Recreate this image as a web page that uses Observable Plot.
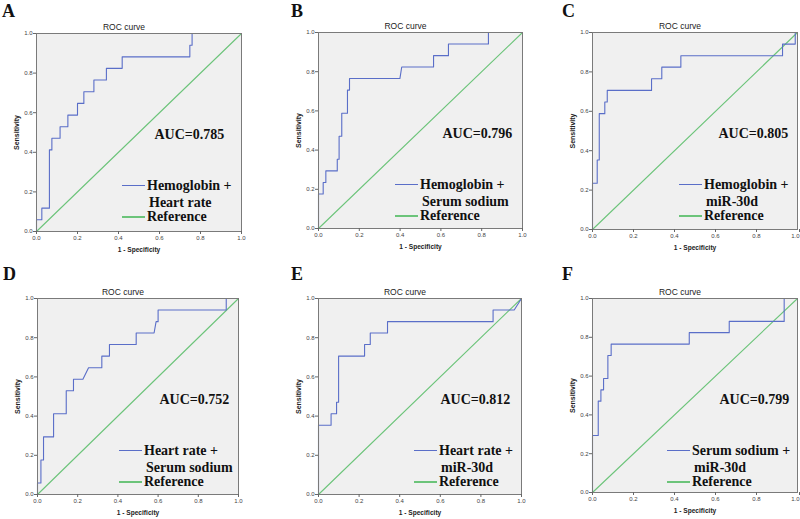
<!DOCTYPE html>
<html><head><meta charset="utf-8">
<script src="https://cdn.jsdelivr.net/npm/d3@7"></script>
<script src="https://cdn.jsdelivr.net/npm/@observablehq/plot@0.6"></script>
<style>
html,body{margin:0;padding:0;background:#fff;}
#wrap{position:relative;width:800px;height:519px;overflow:hidden;background:#fff;}
.pl{position:absolute;}
.letter{position:absolute;font:bold 18px "Liberation Serif","Times New Roman",serif;line-height:18px;color:#111;}
.ov{position:absolute;}
.lg{position:absolute;font:bold 14px "Liberation Serif","Times New Roman",serif;line-height:14px;color:#111;white-space:nowrap;}
.sw{position:absolute;height:1.6px;}
</style></head><body><div id="wrap"></div>
<script>
// ---------- data ----------
const panelLetters = ["A","B","C","D","E","F"];
const aucLabels = ["AUC=0.785","AUC=0.796","AUC=0.805","AUC=0.752","AUC=0.812","AUC=0.799"];
const seriesLine1 = ["Hemoglobin +","Hemoglobin +","Hemoglobin +","Heart rate +","Heart rate +","Serum sodium +"];
const seriesLine2 = ["Heart rate","Serum sodium","miR-30d","Serum sodium","miR-30d","miR-30d"];
const referenceLabel = "Reference";
const chartTitle = "ROC curve";
const xLabel = "1 - Specificity";
const yLabel = "Sensitivity";
const tickValues = [0, 0.2, 0.4, 0.6, 0.8, 1.0];
const refFpr = [0, 1];
const refTpr = [0, 1];

const fprA = [0,0,0.026,0.026,0.063,0.063,0.075,0.075,0.115,0.115,0.153,0.153,0.200,0.200,0.231,0.231,0.280,0.280,0.341,0.341,0.418,0.418,0.748,0.748,0.759,0.759,1];
const tprA = [0,0.059,0.059,0.118,0.118,0.412,0.412,0.471,0.471,0.529,0.529,0.588,0.588,0.647,0.647,0.706,0.706,0.765,0.765,0.824,0.824,0.882,0.882,0.941,0.941,1,1];

const fprB = [0,0,0.023,0.023,0.036,0.036,0.092,0.092,0.101,0.101,0.114,0.114,0.142,0.142,0.152,0.152,0.399,0.408,0.564,0.564,0.637,0.637,0.833,0.833,1];
const tprB = [0,0.176,0.176,0.235,0.235,0.294,0.294,0.353,0.353,0.471,0.471,0.588,0.588,0.706,0.706,0.765,0.765,0.824,0.824,0.882,0.882,0.941,0.941,1,1];

const fprC = [0,0,0.023,0.023,0.033,0.033,0.060,0.060,0.072,0.072,0.288,0.288,0.338,0.338,0.431,0.431,0.927,0.927,0.989,0.989,1];
const tprC = [0,0.235,0.235,0.353,0.353,0.588,0.588,0.647,0.647,0.706,0.706,0.765,0.765,0.824,0.824,0.882,0.882,0.941,0.941,1,1];

const fprD = [0,0,0.017,0.017,0.030,0.030,0.080,0.080,0.143,0.143,0.179,0.179,0.226,0.254,0.320,0.320,0.358,0.358,0.491,0.491,0.580,0.590,0.600,0.600,0.939,0.939,1];
const tprD = [0,0.059,0.059,0.176,0.176,0.294,0.294,0.412,0.412,0.529,0.529,0.588,0.588,0.647,0.647,0.706,0.706,0.765,0.765,0.824,0.824,0.882,0.882,0.941,0.941,1,1];

const fprE = [0,0,0.062,0.062,0.089,0.089,0.099,0.099,0.227,0.227,0.255,0.255,0.340,0.340,0.860,0.860,0.964,1];
const tprE = [0,0.353,0.353,0.412,0.412,0.471,0.471,0.706,0.706,0.765,0.765,0.824,0.824,0.882,0.882,0.941,0.941,1];

const fprF = [0,0,0.028,0.028,0.041,0.041,0.054,0.054,0.075,0.075,0.091,0.091,0.472,0.472,0.667,0.667,0.935,0.935,1];
const tprF = [0,0.294,0.294,0.471,0.471,0.529,0.529,0.588,0.588,0.706,0.706,0.765,0.765,0.824,0.824,0.882,0.882,1,1];

const fprs = [fprA, fprB, fprC, fprD, fprE, fprF];
const tprs = [tprA, tprB, tprC, tprD, tprE, tprF];

// ---------- layout & style ----------
const BLUE = "#5a6ec8";
const GREEN = "#6cc47a";
const layout = [
  {left:36,  top:33,  w:205, h:198, legX:86, aucX:118, lx:2,   ly:5},
  {left:318, top:32,  w:204, h:196, legX:77, aucX:124, lx:291, ly:5},
  {left:592, top:32,  w:205, h:197, legX:87, aucX:126, lx:562, ly:5},
  {left:37,  top:298, w:201, h:196, legX:82, aucX:122, lx:3,   ly:268},
  {left:318, top:298, w:203, h:196, legX:96, aucX:122, lx:291, ly:268},
  {left:592, top:298, w:205, h:194, legX:75, aucX:127, lx:562, ly:268}
];
const mL = 45, mT = 34, mR = 8, mB = 26;
const SERIF = "'Liberation Serif','Times New Roman',serif";
const wrap = document.getElementById("wrap");
const fmt = d3.format(".1f");

layout.forEach((L, i) => {
  const curve = fprs[i].map((x, j) => ({x, y: tprs[i][j]}));
  const ref = refFpr.map((x, j) => ({x, y: refTpr[j]}));
  const nearEdge = L.left + L.w + 6 > 800;
  const xTicksMain = nearEdge ? tickValues.slice(0, -1) : tickValues;
  const xTicksLast = nearEdge ? tickValues.slice(-1) : [];
  const axisOpts = {tickFormat: fmt, tickSize: 3, tickPadding: 1, fontSize: 6, label: null, stroke: "#666", fill: "#444"};
  const svg = Plot.plot({
    width: L.w + mL + mR,
    height: L.h + mT + mB,
    marginLeft: mL, marginTop: mT, marginRight: mR, marginBottom: mB,
    style: {background: "transparent", overflow: "visible", fontFamily: "'Liberation Sans',Arial,sans-serif", color: "#222"},
    x: {domain: [0, 1]},
    y: {domain: [0, 1]},
    marks: [
      Plot.frame({fill: "#f0f0f0", stroke: null}),
      Plot.line(ref, {x: "x", y: "y", stroke: GREEN, strokeWidth: 1.1}),
      Plot.line(curve, {x: "x", y: "y", stroke: BLUE, strokeWidth: 1.1}),
      Plot.frame({stroke: "#7a7a7a", strokeWidth: 1}),
      Plot.axisX(xTicksMain, axisOpts),
      Plot.axisX(xTicksLast, {...axisOpts, textAnchor: "end", dx: 2}),
      Plot.axisY(tickValues, axisOpts),
      Plot.text([chartTitle], {frameAnchor: "top", dx: -15, dy: -6, lineAnchor: "middle", textAnchor: "middle", fontSize: 8.5, fill: "#222"}),
      Plot.text([yLabel], {frameAnchor: "left", rotate: -90, dx: -20, lineAnchor: "middle", textAnchor: "middle", fontSize: 7, fontWeight: "bold", fill: "#222"}),
      Plot.text([xLabel], {frameAnchor: "bottom", dy: 18, lineAnchor: "middle", textAnchor: "middle", fontSize: 6.6, fontWeight: "bold", fill: "#222"}),
      Plot.text([aucLabels[i]], {frameAnchor: "top-left", dx: L.aucX, dy: 101.5, lineAnchor: "middle", textAnchor: "start", fontSize: 14, fontWeight: "bold", fontFamily: SERIF, fill: "#111"})
    ]
  });
  svg.classList.add("pl");
  svg.style.position = "absolute";
  svg.style.left = (L.left - mL) + "px";
  svg.style.top = (L.top - mT) + "px";
  svg.style.maxWidth = "none";
  wrap.appendChild(svg);

  // panel letter
  const let_ = document.createElement("div");
  let_.className = "letter";
  let_.textContent = panelLetters[i];
  let_.style.left = L.lx + "px";
  let_.style.top = (L.ly - 3.2) + "px";
  wrap.appendChild(let_);

  // legend overlay
  const ov = document.createElement("div");
  ov.className = "ov";
  ov.style.left = L.left + "px";
  ov.style.top = L.top + "px";
  const rows = [
    {text: seriesLine1[i], y: 152.5, sw: BLUE, indent: 0},
    {text: seriesLine2[i], y: 170, sw: null, indent: 2},
    {text: referenceLabel, y: 184, sw: GREEN, indent: 0}
  ];
  rows.forEach(r => {
    if (r.sw) {
      const s = document.createElement("div");
      s.className = "sw";
      s.style.background = r.sw;
      s.style.left = L.legX + "px";
      s.style.width = "23px";
      s.style.top = (r.y - 1) + "px";
      ov.appendChild(s);
    }
    const t = document.createElement("div");
    t.className = "lg";
    t.textContent = r.text;
    t.style.left = (L.legX + 25 + r.indent) + "px";
    t.style.top = (r.y - 7) + "px";
    ov.appendChild(t);
  });
  wrap.appendChild(ov);
});
</script>
</body></html>
